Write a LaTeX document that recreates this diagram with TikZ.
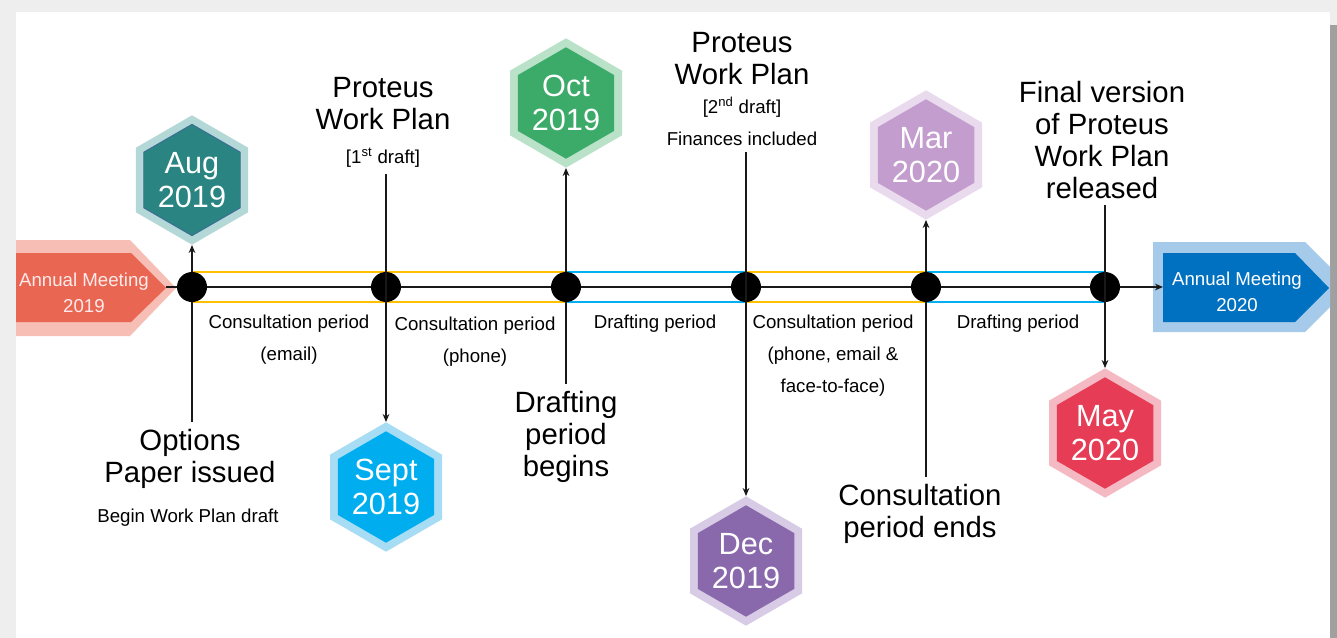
\documentclass[tikz,border=0pt]{standalone}
\usepackage{fontspec}
\setmainfont{Liberation Sans}
\usetikzlibrary{shapes.geometric}
\usetikzlibrary{arrows.meta}
\usetikzlibrary{backgrounds}

\definecolor{pagegray}{RGB}{238,238,238}
\definecolor{edgegray}{RGB}{160,160,160}
\definecolor{consultyellow}{RGB}{255,192,0}
\definecolor{draftblue}{RGB}{0,176,240}
\definecolor{amredfill}{RGB}{233,102,82}
\definecolor{amredhalo}{RGB}{247,190,182}
\definecolor{ambluefill}{RGB}{0,112,192}
\definecolor{ambluehalo}{RGB}{166,202,234}
\definecolor{augfill}{RGB}{42,133,130}
\definecolor{augedge}{RGB}{60,105,150}
\definecolor{aughalo}{RGB}{180,215,215}
\definecolor{septfill}{RGB}{0,174,239}
\definecolor{septhalo}{RGB}{166,220,244}
\definecolor{octfill}{RGB}{60,170,105}
\definecolor{octhalo}{RGB}{185,226,200}
\definecolor{decfill}{RGB}{137,105,172}
\definecolor{dechalo}{RGB}{215,203,229}
\definecolor{marfill}{RGB}{195,157,205}
\definecolor{marhalo}{RGB}{233,218,238}
\definecolor{mayfill}{RGB}{230,60,85}
\definecolor{mayhalo}{RGB}{244,185,195}

\tikzstyle{hexhalo}=[
      regular polygon,
      regular polygon sides = 6,
      shape border rotate = 30,
      inner sep = 0pt,
      minimum size = 97pt
      ]
\tikzstyle{hexcore}=[
      regular polygon,
      regular polygon sides = 6,
      shape border rotate = 30,
      inner sep = 0pt,
      minimum size = 80pt,
      text = white,
      align = center,
      font = \fontsize{23}{25}\selectfont
      ]
\tikzstyle{eventdot}=[circle, fill = black, inner sep = 0pt, minimum size = 22.5pt]
\tikzstyle{biglabel}=[
      anchor = north,
      inner sep = 5pt,
      align = center,
      font = \fontsize{22}{24}\selectfont
      ]
\tikzstyle{smalllabel}=[
      anchor = north,
      inner sep = 5pt,
      align = center,
      font = \fontsize{14}{24}\selectfont
      ]
\tikzstyle{meetinglabel}=[
      inner sep = 0pt,
      align = center,
      font = \fontsize{14}{19.5}\selectfont
      ]
\tikzstyle{stem}=[line width = 1.5pt, draw = black!90]
\tikzstyle{arrowstem}=[stem, -{Stealth[length = 6pt, width = 5pt]}]
\tikzstyle{consultline}=[line width = 1.5pt, draw = consultyellow]
\tikzstyle{draftline}=[line width = 1.5pt, draw = draftblue]

\begin{document}
\begin{tikzpicture}[x = 0.75pt, y = -0.75pt]
\useasboundingbox (0,0) rectangle (1337,638);

% page and the two meeting arrows
\begin{scope}[on background layer]
  \fill[pagegray] (0,0) rectangle (1337,638);
  \fill[edgegray] (1330,25) rectangle (1337,638);
  \fill[white] (16,12) rectangle (1330,638);
  \fill[amredhalo] (16,240) -- (130,240) -- (176,288) -- (130,336) -- (16,336) -- cycle;
  \fill[amredfill] (16,253) -- (131,253) -- (166,288) -- (131,322) -- (16,322) -- cycle;
  \fill[ambluehalo] (1153,242) -- (1305,242) -- (1330,267) -- (1330,307) -- (1305,332) -- (1153,332) -- cycle;
  \fill[ambluefill] (1163,253) -- (1295,253) -- (1329,288) -- (1295,322) -- (1163,322) -- cycle;
\end{scope}

\node[meetinglabel, text = red!8] (am19) at (84,293) {Annual Meeting\\2019};
\node[meetinglabel, text = white] (am20) at (1237,292) {Annual Meeting\\2020};
\coordinate (am19-tip) at (166,287);
\coordinate (am20-tail) at (1163,287);

% months
\node[hexhalo, fill = aughalo] (aug) at (192,180) {};
\node[hexcore, fill = augfill, draw = augedge, line width = 0.6pt] (aug-core) at (aug) {Aug\\2019};
\node[hexhalo, fill = septhalo] (sept) at (386,487) {};
\node[hexcore, fill = septfill] (sept-core) at (sept) {Sept\\2019};
\node[hexhalo, fill = octhalo] (oct) at (566,103) {};
\node[hexcore, fill = octfill] (oct-core) at (oct) {Oct\\2019};
\node[hexhalo, fill = dechalo] (dec) at (746,561) {};
\node[hexcore, fill = decfill] (dec-core) at (dec) {Dec\\2019};
\node[hexhalo, fill = marhalo] (mar) at (926,155) {};
\node[hexcore, fill = marfill] (mar-core) at (mar) {Mar\\2020};
\node[hexhalo, fill = mayhalo] (may) at (1105,433) {};
\node[hexcore, fill = mayfill] (may-core) at (may) {May\\2020};

% milestones
\node[biglabel] (options) at (190,422) {Options\\Paper issued};
\node[smalllabel] (options-note) at (188,502) {Begin Work Plan draft};
\node[biglabel] (wp1) at (383,70) {Proteus\\Work Plan};
\node[smalllabel] (wp1-note) at (383,141) {[1\textsuperscript{st} draft]};
\node[biglabel] (begins) at (566,384) {Drafting\\period\\begins};
\node[biglabel] (wp2) at (742,25) {Proteus\\Work Plan};
\node[smalllabel] (wp2-note) at (742,90) {[2\textsuperscript{nd} draft]\\Finances included};
\node[biglabel] (ends) at (920,477) {Consultation\\period ends};
\node[biglabel] (final) at (1102,74) {Final version\\of Proteus\\Work Plan\\released};

% periods
\node[smalllabel, inner sep = 0pt] (period1) at (289,315) {Consultation period\\(email)};
\node[smalllabel, inner sep = 0pt] (period2) at (475,317) {Consultation period\\(phone)};
\node[smalllabel, inner sep = 0pt] (period3) at (655,315) {Drafting period};
\node[smalllabel, inner sep = 0pt] (period4) at (833,315) {Consultation period\\(phone, email \&\\face-to-face)};
\node[smalllabel, inner sep = 0pt] (period5) at (1018,315) {Drafting period};

\foreach \name/\x in {aug/192, sept/386, oct/566, dec/746, mar/926, may/1105}
  \node[eventdot] (\name-dot) at (\x,287) {};

\begin{scope}[on background layer]
  \draw[consultline] ([yshift = 11.25pt]aug-dot.center) -- ([yshift = 11.25pt]sept-dot.center);
  \draw[consultline] ([yshift = -11.25pt]aug-dot.center) -- ([yshift = -11.25pt]sept-dot.center);
  \draw[consultline] ([yshift = 11.25pt]sept-dot.center) -- ([yshift = 11.25pt]oct-dot.center);
  \draw[consultline] ([yshift = -11.25pt]sept-dot.center) -- ([yshift = -11.25pt]oct-dot.center);
  \draw[draftline] ([yshift = 11.25pt]oct-dot.center) -- ([yshift = 11.25pt]dec-dot.center);
  \draw[draftline] ([yshift = -11.25pt]oct-dot.center) -- ([yshift = -11.25pt]dec-dot.center);
  \draw[consultline] ([yshift = 11.25pt]dec-dot.center) -- ([yshift = 11.25pt]mar-dot.center);
  \draw[consultline] ([yshift = -11.25pt]dec-dot.center) -- ([yshift = -11.25pt]mar-dot.center);
  \draw[draftline] ([yshift = 11.25pt]mar-dot.center) -- ([yshift = 11.25pt]may-dot.center);
  \draw[draftline] ([yshift = -11.25pt]mar-dot.center) -- ([yshift = -11.25pt]may-dot.center);
  \draw[arrowstem] (am19-tip) -- (am20-tail);
\end{scope}

\draw[arrowstem] (aug-dot) -- (aug);
\draw[stem] (aug-dot) -- (aug-dot |- options.north);
\draw[arrowstem] (sept-dot |- wp1-note.south) -- (sept);
\draw[arrowstem] (oct-dot) -- (oct);
\draw[stem] (oct-dot) -- (oct-dot |- begins.north);
\draw[arrowstem] (dec-dot |- wp2-note.south) -- (dec);
\draw[arrowstem] (mar-dot) -- (mar);
\draw[stem] (mar-dot) -- (mar-dot |- ends.north);
\draw[arrowstem] (may-dot |- final.south) -- (may);
\end{tikzpicture}
\end{document}
